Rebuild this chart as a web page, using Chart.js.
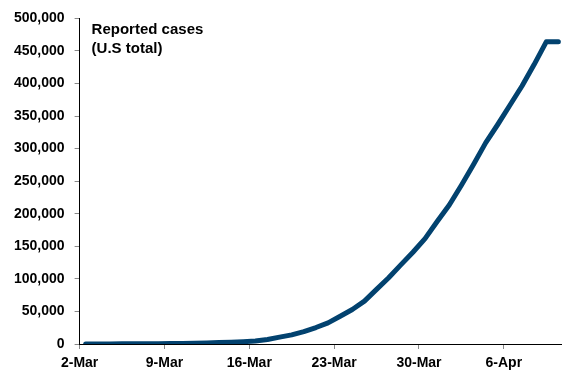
<!DOCTYPE html>
<html>
<head>
<meta charset="utf-8">
<script src="https://cdn.jsdelivr.net/npm/chart.js@4.4.1/dist/chart.umd.min.js"></script>
<style>
  html, body { margin: 0; padding: 0; background: #fff; }
  #wrap { width: 562px; height: 370px; }
</style>
</head>
<body>
<div id="wrap"><canvas id="chart" width="562" height="370"></canvas></div>
<script>
// days shown on the axis, one value per day
const dates = [
  '2-Mar', '3-Mar', '4-Mar', '5-Mar', '6-Mar', '7-Mar', '8-Mar',
  '9-Mar', '10-Mar', '11-Mar', '12-Mar', '13-Mar', '14-Mar', '15-Mar',
  '16-Mar', '17-Mar', '18-Mar', '19-Mar', '20-Mar', '21-Mar', '22-Mar',
  '23-Mar', '24-Mar', '25-Mar', '26-Mar', '27-Mar', '28-Mar', '29-Mar',
  '30-Mar', '31-Mar', '1-Apr', '2-Apr', '3-Apr', '4-Apr', '5-Apr',
  '6-Apr', '7-Apr', '8-Apr', '9-Apr', '10-Apr'
];

// reported cases, U.S total
const cases = [
  100, 120, 150, 220, 260, 400, 520,
  580, 960, 1280, 1660, 2180, 2730, 3500,
  4630, 7000, 10500, 14000, 19000, 25300, 32500,
  42500, 53000, 65780, 83840, 101660, 121480, 140890,
  161810, 188170, 213370, 243760, 275590, 308850, 337070,
  366670, 396220, 429050, 464000, 464000
];

const titleLines = ['Reported cases', '(U.S total)'];
const xTickEvery = 7;
const yMax = 500000;
const yStep = 50000;

const FONT = 'Arial, "Liberation Sans", sans-serif';

// each point sits in the middle of its day
const points = cases.map((v, i) => ({ x: i + 0.5, y: v }));

const titlePlugin = {
    id: 'innerTitle',
    afterDraw(chart) {
        const ctx = chart.ctx;
        const area = chart.chartArea;
        ctx.save();
        ctx.font = 'bold 15px ' + FONT;
        ctx.fillStyle = '#000';
        ctx.textBaseline = 'alphabetic';
        titleLines.forEach((line, i) => {
            ctx.fillText(line, area.left + 12, area.top + 16 + i * 19);
        });
        ctx.restore();
    }
};

new Chart(document.getElementById('chart'), {
    type: 'line',
    data: {
        datasets: [{
            data: points,
            borderColor: '#02426f',
            borderWidth: 5,
            borderCapStyle: 'round',
            borderJoinStyle: 'round',
            pointRadius: 0,
            tension: 0,
            fill: false
        }]
    },
    options: {
        responsive: false,
        animation: false,
        layout: { padding: { left: 4, top: 16, right: 0, bottom: -7 } },
        plugins: {
            legend: { display: false },
            tooltip: { enabled: false }
        },
        scales: {
            x: {
                type: 'linear',
                min: 0,
                max: 39.8,
                border: { display: true, color: '#000', width: 1 },
                grid: { drawOnChartArea: false, drawTicks: true, tickLength: 5, color: '#888' },
                ticks: {
                    stepSize: xTickEvery,
                    includeBounds: false,
                    autoSkip: false,
                    maxRotation: 0,
                    padding: 7,
                    color: '#000',
                    font: { family: FONT, size: 14, weight: 'bold', lineHeight: 1 },
                    callback: (v) => dates[v]
                }
            },
            y: {
                min: 0,
                max: yMax,
                border: { display: true, color: '#000', width: 1 },
                grid: { drawOnChartArea: false, drawTicks: true, tickLength: 5, color: '#888' },
                ticks: {
                    stepSize: yStep,
                    padding: 10,
                    color: '#000',
                    font: { family: FONT, size: 14, weight: 'bold' },
                    callback: (v) => v.toLocaleString('en-US')
                }
            }
        }
    },
    plugins: [titlePlugin]
});
</script>
</body>
</html>
